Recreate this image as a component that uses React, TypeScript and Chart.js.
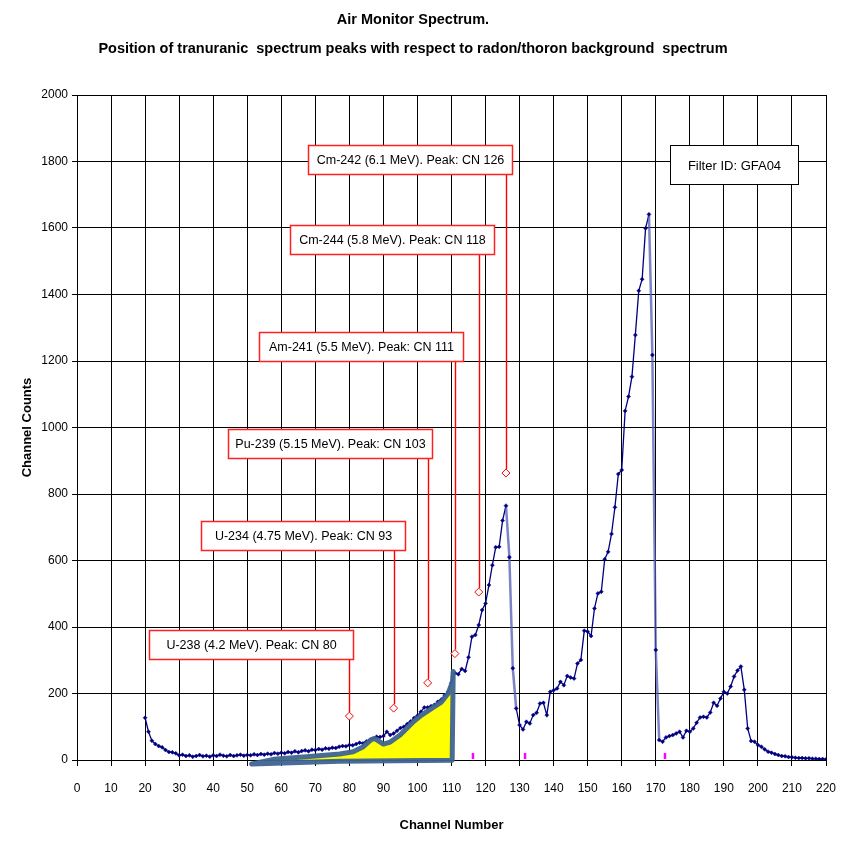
import React, { useEffect, useRef } from "react";
import { Chart, registerables } from "chart.js";

Chart.register(...registerables);

// ---------------- DATA ----------------
const channels: number[] = Array.from({ length: 201 }, (_, i) => 20 + i);

const counts: number[] = [
  127, 85, 58, 48, 42, 38, 30, 24, 23, 20, // 20-29
  14, 16, 12, 14, 10, 12, 15, 11, 13, 10, // 30-39
  14, 12, 16, 13, 11, 15, 12, 14, 16, 13, // 40-49
  15, 14, 17, 15, 18, 16, 19, 17, 21, 19, // 50-59
  22, 20, 24, 22, 26, 23, 27, 29, 26, 31, // 60-69
  30, 33, 31, 35, 34, 37, 36, 40, 42, 41, // 70-79
  45, 44, 48, 52, 50, 56, 60, 65, 70, 69, // 80-89
  72, 85, 75, 80, 88, 96, 100, 108, 116, 126, // 90-99
  133, 145, 158, 158, 162, 166, 175, 182, 195, 205, // 100-109
  232, 262, 258, 274, 268, 309, 371, 376, 406, 451, // 110-119
  471, 526, 586, 640, 641, 720, 765, 610, 276, 155, // 120-129
  105, 92, 115, 110, 135, 142, 170, 172, 135, 205, // 130-139
  210, 215, 235, 225, 253, 248, 245, 290, 301, 389, // 140-149
  386, 373, 456, 501, 506, 604, 626, 680, 760, 860, // 150-159
  872, 1050, 1093, 1153, 1278, 1411, 1446, 1599, 1641, 1218, // 160-169
  331, 60, 55, 68, 72, 75, 80, 85, 68, 88, // 170-179
  85, 95, 112, 128, 130, 128, 143, 172, 163, 185, // 180-189
  205, 200, 221, 251, 269, 281, 211, 95, 57, 55, // 190-199
  45, 40, 32, 25, 22, 18, 15, 12, 11, 9, // 200-209
  8, 7, 6, 6, 5, 5, 4, 4, 3, 3, // 210-219
  2, // 220
];

// Highlighted (yellow) region outline, channel / counts
const areaX: number[] = [51.3, 57.7, 67.4, 77.2, 81.1, 84.1, 86.5, 87.5, 90, 92, 94.9, 98.8, 101.2, 104.2, 107.1, 109, 110.3, 110.5, 110.2, 77, 51.3];
const areaY: number[] = [-12, 2, 10, 18, 25, 40, 62, 64, 48, 54, 75, 115, 135, 155, 175, 200, 236, 266, -1, -4, -12];

// Magenta baseline markers
const magentaX: number[] = [116.3, 131.6, 172.7];
const magentaY: number[] = [12, 12, 12];

// Transuranic peak annotations
const peakLabels: string[] = [
  "U-238 (4.2 MeV). Peak: CN 80",
  "U-234 (4.75 MeV). Peak: CN 93",
  "Pu-239 (5.15 MeV). Peak: CN 103",
  "Am-241 (5.5 MeV). Peak: CN 111",
  "Cm-244 (5.8 MeV). Peak: CN 118",
  "Cm-242 (6.1 MeV). Peak: CN 126",
];
const peakChannels: number[] = [80, 93, 103, 111, 118, 126];
const peakMarkerCounts: number[] = [132, 156, 232, 320, 505, 863];

const titleLines: string[] = [
  "Air Monitor Spectrum.",
  "Position of tranuranic  spectrum peaks with respect to radon/thoron background  spectrum",
];
const filterLabel = "Filter ID: GFA04";

// ---------------- LAYOUT / STYLE ----------------
const FONT_N = '"Liberation Sans Narrow", "Arial Narrow", "Liberation Sans", Arial, sans-serif';
const FONT_B = '"Liberation Sans", Arial, sans-serif';

// box centre (in counts) and right edge offset from the leader line (px)
const boxLayout = [
  { centerCount: 347, rightOffset: 4 },
  { centerCount: 674, rightOffset: 11 },
  { centerCount: 952, rightOffset: 4 },
  { centerCount: 1244, rightOffset: 8 },
  { centerCount: 1565, rightOffset: 15 },
  { centerCount: 1805, rightOffset: 6 },
];
const BOX_W = 204;
const BOX_H = 29;

const annotationPlugin = {
  id: "peakAnnotations",
  afterDatasetsDraw(chart: any) {
    const { ctx, scales } = chart;
    const xs = scales.x;
    const ys = scales.y;
    ctx.save();
    peakLabels.forEach((label, i) => {
      const lx = Math.round(xs.getPixelForValue(peakChannels[i])) + 0.5;
      const cy = ys.getPixelForValue(boxLayout[i].centerCount);
      const right = lx + boxLayout[i].rightOffset;
      const left = right - BOX_W;
      const top = Math.round(cy - BOX_H / 2) + 0.5;
      const bottom = top + BOX_H;
      const my = ys.getPixelForValue(peakMarkerCounts[i]);
      ctx.strokeStyle = "#ff0000";
      ctx.lineWidth = 1.4;
      ctx.beginPath();
      ctx.moveTo(lx, bottom);
      ctx.lineTo(lx, my - 4);
      ctx.stroke();
      ctx.fillStyle = "#ffffff";
      ctx.fillRect(left, top, BOX_W, BOX_H);
      ctx.lineWidth = 1.5;
      ctx.strokeStyle = "#ff2020";
      ctx.strokeRect(left, top, BOX_W, BOX_H);
      ctx.fillStyle = "#000000";
      ctx.font = `12.5px ${FONT_N}`;
      ctx.textAlign = "center";
      ctx.textBaseline = "middle";
      ctx.fillText(label, (left + right) / 2, top + BOX_H / 2 + 1);
    });
    // Filter ID box
    const fx = xs.getPixelForValue(193);
    const fy = ys.getPixelForValue(1792);
    const fw = 128;
    const fh = 39;
    const fl = Math.round(fx - fw / 2) + 0.5;
    const ft = Math.round(fy - fh / 2) + 0.5;
    ctx.fillStyle = "#ffffff";
    ctx.fillRect(fl, ft, fw, fh);
    ctx.strokeStyle = "#000000";
    ctx.lineWidth = 1;
    ctx.strokeRect(fl, ft, fw, fh);
    ctx.fillStyle = "#000000";
    ctx.font = `13px ${FONT_N}`;
    ctx.textAlign = "center";
    ctx.textBaseline = "middle";
    ctx.fillText(filterLabel, fl + fw / 2, ft + fh / 2 + 1);
    ctx.restore();
  },
};

export default function App() {
  const canvasRef = useRef<HTMLCanvasElement | null>(null);

  useEffect(() => {
    const canvas = canvasRef.current;
    if (!canvas) return;
    const chart = new Chart(canvas, {
      type: "scatter",
      data: {
        datasets: [
          {
            label: "markers",
            data: peakChannels.map((c, i) => ({ x: c, y: peakMarkerCounts[i] })),
            pointStyle: "rectRot",
            pointRadius: 4,
            borderColor: "#ff0000",
            backgroundColor: "#ffffff",
            borderWidth: 1,
            showLine: false,
            order: 0,
            clip: false,
          },
          {
            label: "magenta",
            data: magentaX.map((v, i) => ({ x: v, y: magentaY[i] })),
            pointStyle: "line",
            rotation: 90,
            pointRadius: 3,
            borderColor: "#ff00ff",
            backgroundColor: "#ff00ff",
            borderWidth: 2.5,
            showLine: false,
            order: 1,
          },
          {
            label: "area",
            data: areaX.map((v, i) => ({ x: v, y: areaY[i] })),
            showLine: true,
            fill: "shape",
            backgroundColor: "#ffff00",
            borderColor: "rgba(62,100,145,0.95)",
            borderWidth: 5,
            borderJoinStyle: "round",
            borderCapStyle: "round",
            pointRadius: 0,
            order: 2,
            clip: false,
          },
          {
            label: "spectrum",
            data: channels.map((c, i) => ({ x: c, y: counts[i] })),
            showLine: true,
            borderColor: "#000080",
            borderWidth: 1.3,
            pointStyle: "rectRot",
            pointRadius: 2,
            pointBackgroundColor: "#000080",
            pointBorderColor: "#000080",
            pointBorderWidth: 0.5,
            order: 3,
            segment: {
              borderColor: (c: any) => (c.p0.parsed.y - c.p1.parsed.y > 118 ? "rgba(80,90,180,0.75)" : undefined),
              borderWidth: (c: any) => (c.p0.parsed.y - c.p1.parsed.y > 118 ? 2.5 : undefined),
            },
          },
        ],
      },
      options: {
        responsive: false,
        animation: false,
        events: [],
        layout: { padding: { left: 0, right: 20, top: 0, bottom: 0 } },
        plugins: {
          legend: { display: false },
          tooltip: { enabled: false },
          title: {
            display: true,
            text: titleLines,
            color: "#000000",
            font: { family: FONT_N, size: 14.5, weight: "bold", lineHeight: 2 },
            padding: { top: 5, bottom: 32 },
          },
        },
        scales: {
          x: {
            type: "linear",
            min: 0,
            max: 220,
            ticks: {
              stepSize: 10,
              color: "#000000",
              font: { family: FONT_N, size: 12 },
              padding: 15,
              maxRotation: 0,
              autoSkip: false,
              callback: (v: any) => String(v),
            },
            grid: { color: "#000000", lineWidth: 1, tickLength: 6, drawTicks: true },
            border: { color: "#000000", width: 1 },
            title: {
              display: true,
              text: "Channel Number",
              color: "#000000",
              font: { family: FONT_N, size: 13, weight: "bold" },
              padding: { top: 0, bottom: 12 },
            },
            afterFit: (s: any) => {
              s.height = 85;
              s.paddingLeft = 0;
              s.paddingRight = 0;
            },
          },
          y: {
            type: "linear",
            min: 0,
            max: 2000,
            ticks: {
              stepSize: 200,
              color: "#000000",
              font: { family: FONT_N, size: 12 },
              padding: 4,
              callback: (v: any) => String(v),
            },
            grid: { color: "#000000", lineWidth: 1, tickLength: 5, drawTicks: true },
            border: { color: "#000000", width: 1 },
            title: {
              display: true,
              text: "Channel Counts",
              color: "#000000",
              font: { family: FONT_B, size: 13, weight: "bold" },
              padding: { top: 20, bottom: 0 },
            },
            afterFit: (s: any) => {
              s.width = 77;
              s.paddingTop = 0;
              s.paddingBottom = 0;
            },
          },
        },
      },
      plugins: [annotationPlugin],
    } as any);
    return () => chart.destroy();
  }, []);

  return (
    <div style={{ position: "fixed", left: 0, top: 0, width: 846, height: 845, background: "#ffffff" }}>
      <canvas ref={canvasRef} width={846} height={845} style={{ display: "block" }} />
    </div>
  );
}
